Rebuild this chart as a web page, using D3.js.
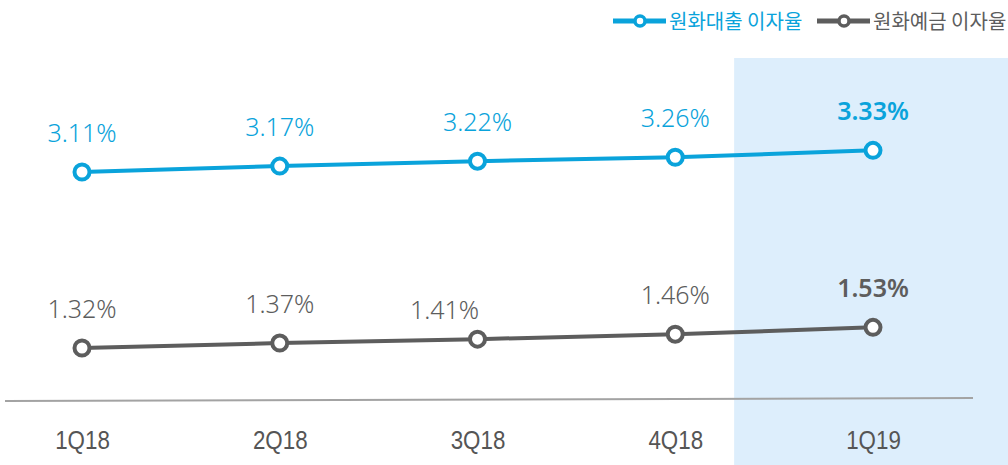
<!DOCTYPE html>
<html>
<head>
<meta charset="utf-8">
<script src="https://cdn.jsdelivr.net/npm/d3@7"></script>
<style>
  html, body { margin: 0; padding: 0; background: #fff; }
  svg { display: block; }
</style>
</head>
<body>
<svg width="1008" height="465"></svg>
<script>
// Chart data
const quarters = ["1Q18", "2Q18", "3Q18", "4Q18", "1Q19"];
const loanRates = [3.11, 3.17, 3.22, 3.26, 3.33];
const depositRates = [1.32, 1.37, 1.41, 1.46, 1.53];
const seriesNames = ["원화대출 이자율", "원화예금 이자율"];

const blue = "#0aa3db";
const gray = "#5d5d5d";

const svg = d3.select("svg");
const width = +svg.attr("width");
const height = +svg.attr("height");

// x positions for each quarter
const x = d3.scalePoint()
	.domain(quarters)
	.range([82, 873]);

// one shared y scale for both rates
const y = d3.scaleLinear()
	.domain([1.32, 3.11])
	.range([348, 172]);

// highlight band behind the latest quarter
const bandLeft = (x("4Q18") + x("1Q19")) / 2 - 40;
svg.append("rect")
	.attr("x", bandLeft)
	.attr("y", 58)
	.attr("width", width - bandLeft)
	.attr("height", height - 58)
	.attr("fill", "#ddeefc");

// baseline
svg.append("line")
	.attr("x1", 5)
	.attr("x2", 973)
	.attr("y1", 401)
	.attr("y2", 398)
	.attr("stroke", "#a3a3a3")
	.attr("stroke-width", 2);

// x axis labels (narrowed a bit to look condensed)
svg.append("g")
	.attr("transform", "translate(0,449)")
	.call(d3.axisBottom(x).tickSize(0).tickPadding(0))
	.call(g => g.select(".domain").remove())
	.selectAll("text")
		.attr("dy", 0)
		.attr("transform", "scale(0.86,1)")
		.attr("fill", "#555")
		.attr("font-family", "'Liberation Sans', sans-serif")
		.attr("font-size", 26);

const series = [
	{ name: seriesNames[0], values: loanRates, color: blue },
	{ name: seriesNames[1], values: depositRates, color: gray }
];

const line = d3.line()
	.x((d, i) => x(quarters[i]))
	.y(d => y(d));

series.forEach((s, si) => {
	const g = svg.append("g");

	g.append("path")
		.datum(s.values)
		.attr("d", line)
		.attr("fill", "none")
		.attr("stroke", s.color)
		.attr("stroke-width", 4);

	g.selectAll("circle")
		.data(s.values)
		.enter().append("circle")
			.attr("cx", (d, i) => x(quarters[i]))
			.attr("cy", d => y(d))
			.attr("r", 7.5)
			.attr("fill", "#fff")
			.attr("stroke", s.color)
			.attr("stroke-width", 4);

	g.selectAll("text")
		.data(s.values)
		.enter().append("text")
			.attr("x", (d, i) => x(quarters[i]) + (si === 1 && i === 2 ? -33 : 0))
			.attr("y", (d, i) => y(d) - 30 + (si === 1 && i === 2 ? 10 : 0))
			.attr("text-anchor", "middle")
			.attr("fill", s.color)
			.attr("font-family", "'Noto Sans', sans-serif")
			.attr("font-size", 25)
			.attr("font-weight", (d, i) => i === s.values.length - 1 ? 600 : 300)
			.text(d => d.toFixed(2) + "%");
});

// legend
const legend = svg.append("g");
const legendItems = [
	{ name: seriesNames[0], color: blue, x0: 613 },
	{ name: seriesNames[1], color: gray, x0: 817 }
];
legendItems.forEach(item => {
	legend.append("line")
		.attr("x1", item.x0)
		.attr("x2", item.x0 + 53)
		.attr("y1", 21)
		.attr("y2", 21)
		.attr("stroke", item.color)
		.attr("stroke-width", 5);
	legend.append("circle")
		.attr("cx", item.x0 + 27)
		.attr("cy", 21)
		.attr("r", 5)
		.attr("fill", "#fff")
		.attr("stroke", item.color)
		.attr("stroke-width", 3.5);
	legend.append("text")
		.attr("x", item.x0 + 56)
		.attr("y", 28.5)
		.attr("fill", item.color)
		.attr("font-family", "'Noto Sans CJK KR', sans-serif")
		.attr("font-size", 20)
		.text(item.name);
});
</script>
</body>
</html>
